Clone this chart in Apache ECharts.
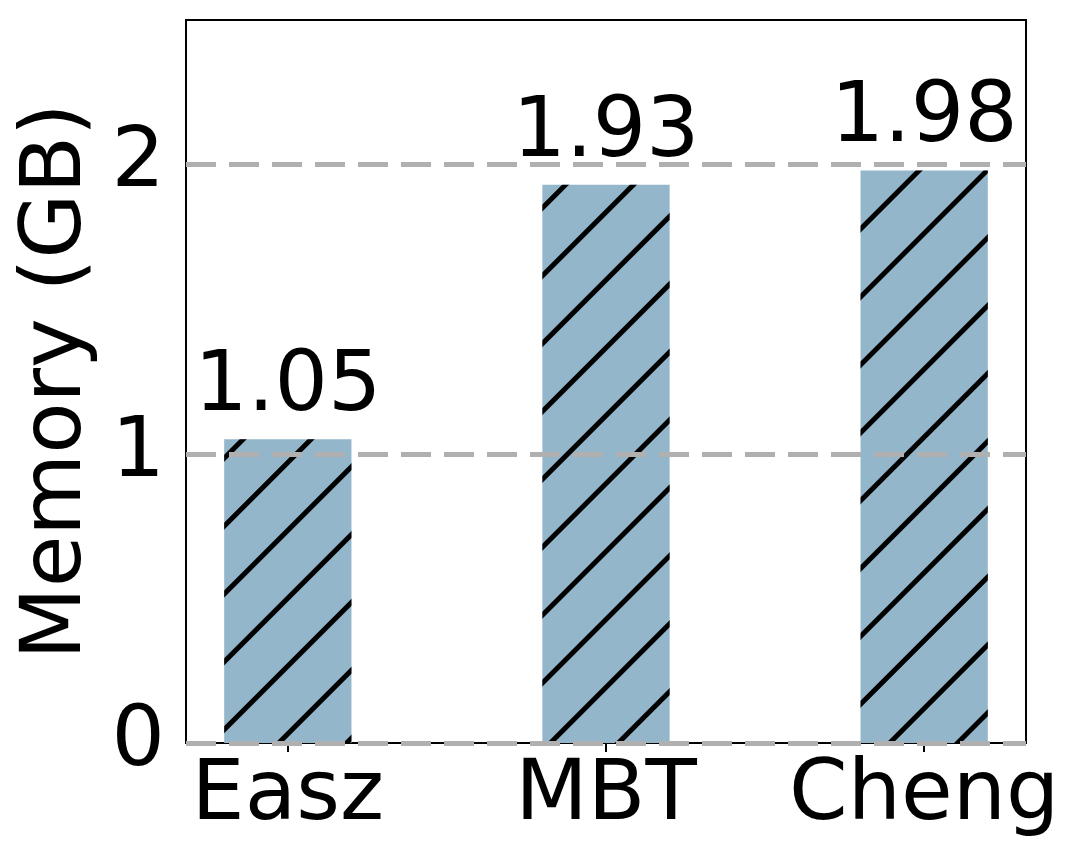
<!DOCTYPE html>
<html>
<head>
<meta charset="utf-8">
<script src="https://cdn.jsdelivr.net/npm/echarts@6/dist/echarts.min.js"></script>
<style>html,body{margin:0;padding:0;background:#fff;}#c{width:1079px;height:865px;}</style>
</head>
<body>
<div id="c"></div>
<script>
var categories = ['Easz', 'MBT', 'Cheng'];
var memoryGB = [1.05, 1.93, 1.98];
var yTicks = [0, 1, 2];
var positions = [0, 1, 2];
var barWidthUnits = 0.4;

var FONT = 'DejaVu Sans';
var FS = 84;
var chart = echarts.init(document.getElementById('c'));
var data = positions.map(function (p, i) { return [p, memoryGB[i]]; });

function build(bw) {
  return {
    animation: false,
    grid: { left: 186, right: 53, top: 20, bottom: 122, show: true, borderColor: '#000', borderWidth: 2, containLabel: false, outerBoundsMode: 'none' },
    xAxis: {
      type: 'value', min: -0.32, max: 2.32,
      splitLine: { show: false },
      axisLine: { show: false },
      axisTick: { show: true, customValues: positions, length: 9, lineStyle: { color: '#000', width: 2 } },
      axisLabel: { customValues: positions, margin: 12, fontSize: FS, fontFamily: FONT, color: '#000',
        formatter: function (v) { return categories[Math.round(v)]; } }
    },
    yAxis: {
      type: 'value', min: 0, max: 2.5,
      name: 'Memory (GB)', nameLocation: 'middle', nameGap: 82, nameRotate: 90,
      nameTextStyle: { fontSize: FS, fontFamily: FONT, color: '#000' },
      splitLine: { show: false },
      axisLine: { show: false },
      axisTick: { show: true, customValues: yTicks, length: 10, lineStyle: { color: '#000', width: 2 } },
      axisLabel: { customValues: yTicks, margin: 21, fontSize: FS, fontFamily: FONT, color: '#000' }
    },
    series: [{
      type: 'bar',
      data: data,
      barWidth: bw,
      itemStyle: {
        color: '#94b6cb',
        decal: { symbol: 'rect', symbolSize: 1, color: '#000', dashArrayX: [1, 0], dashArrayY: [5, 43], rotation: -Math.PI / 4 }
      },
      label: { show: true, position: 'top', distance: 9, fontSize: FS, fontFamily: FONT, color: '#000',
        formatter: function (p) { return p.value[1].toFixed(2); } },
      markLine: {
        silent: true, symbol: 'none', z: 10,
        label: { show: false },
        lineStyle: { color: '#b0b0b0', width: 5, type: [30, 13] },
        data: yTicks.map(function (t) { return { yAxis: t }; })
      }
    }]
  };
}
chart.setOption(build(100));
var px0 = chart.convertToPixel({ xAxisIndex: 0 }, 0);
var px1 = chart.convertToPixel({ xAxisIndex: 0 }, barWidthUnits);
chart.setOption(build(Math.abs(px1 - px0)));
</script>
</body>
</html>
